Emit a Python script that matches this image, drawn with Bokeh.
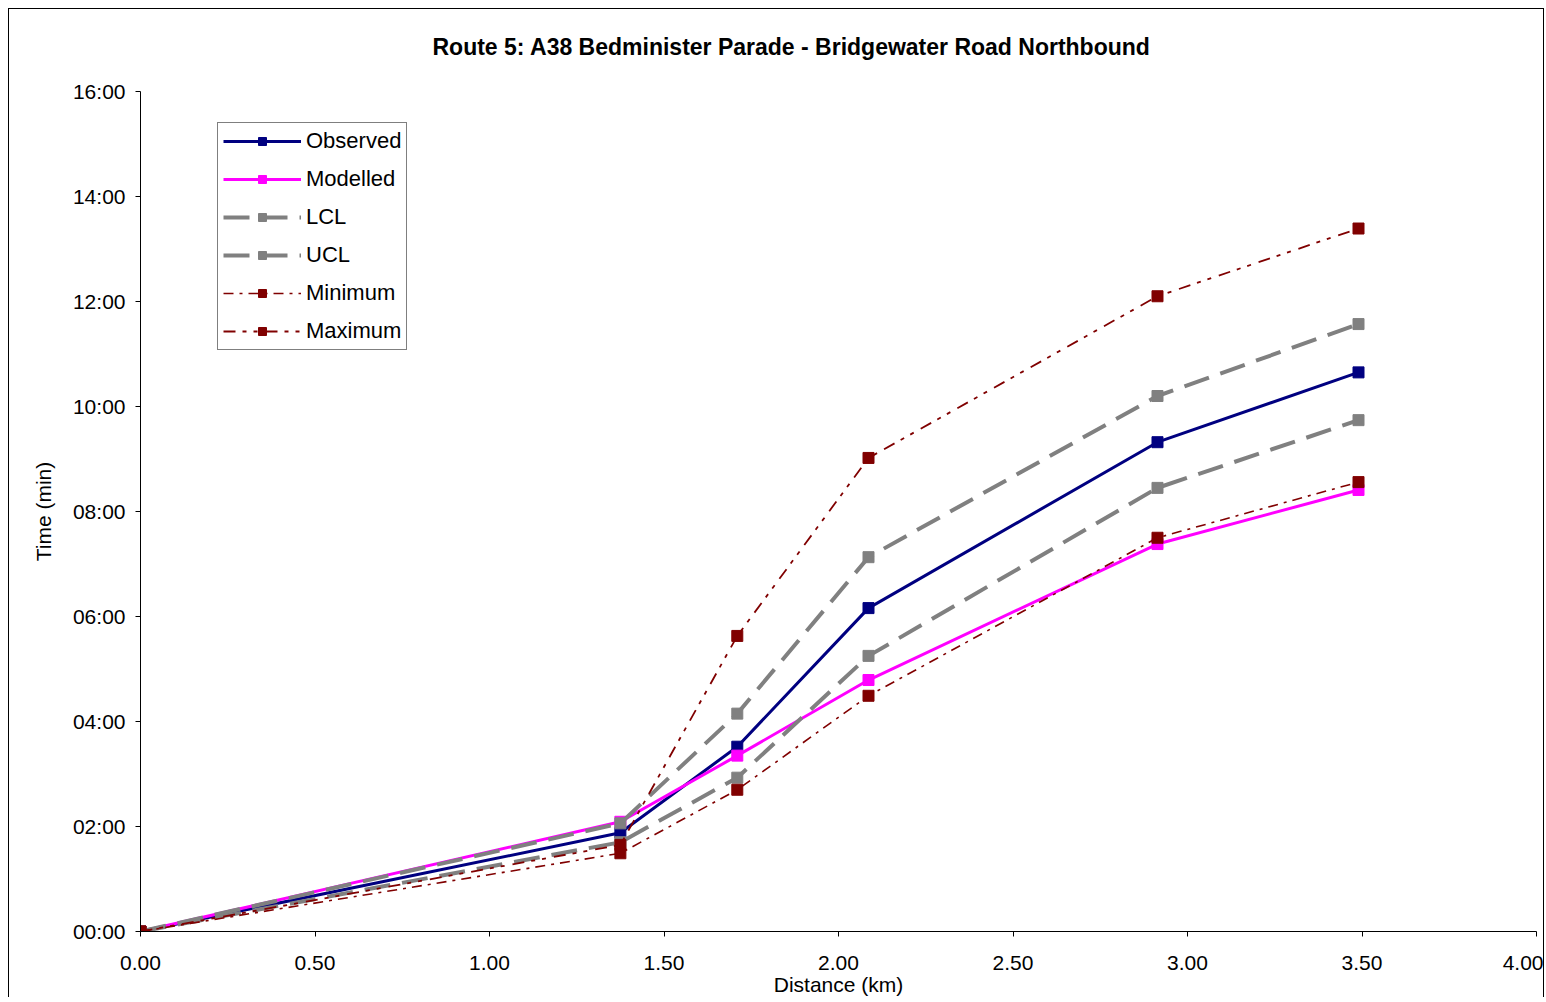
from bokeh.plotting import figure
from bokeh.models import Range1d, FixedTicker, Legend, LegendItem
from bokeh.embed import file_html
from bokeh.resources import INLINE

# ---- data ----
distance_km = [0.0, 1.375, 1.71, 2.086, 2.914, 3.49]
observed = [0.0, 1.88, 3.52, 6.16, 9.32, 10.65]
modelled = [0.0, 2.09, 3.35, 4.79, 7.38, 8.41]
lcl = [0.0, 1.70, 2.93, 5.25, 8.45, 9.74]
ucl = [0.0, 2.06, 4.15, 7.13, 10.20, 11.57]
minimum = [0.0, 1.49, 2.70, 4.49, 7.50, 8.56]
maximum = [0.0, 1.65, 5.63, 9.02, 12.10, 13.39]

series_names = ["Observed", "Modelled", "LCL", "UCL", "Minimum", "Maximum"]
x_ticks = [0.0, 0.5, 1.0, 1.5, 2.0, 2.5, 3.0, 3.5, 4.0]
x_tick_labels = ["0.00", "0.50", "1.00", "1.50", "2.00", "2.50", "3.00", "3.50", "4.00"]
y_ticks = [0, 2, 4, 6, 8, 10, 12, 14, 16]
y_tick_labels = ["00:00", "02:00", "04:00", "06:00", "08:00", "10:00", "12:00", "14:00", "16:00"]
title_text = "Route 5: A38 Bedminister Parade - Bridgewater Road Northbound"

FONT = "Liberation Sans"

p = figure(width=1536, height=989, output_backend="svg", toolbar_location=None,
           x_range=Range1d(0, 4.0), y_range=Range1d(0, 16),
           min_border_left=131, min_border_right=9, min_border_top=82, min_border_bottom=62,
           styles={"border-left": "1px solid black", "border-top": "1px solid black",
                   "border-right": "1px solid black",
                   "margin-left": "8px", "margin-top": "8px"})
p.outline_line_color = None
p.grid.visible = False
p.background_fill_color = "white"
p.border_fill_color = "white"

# second (blank) line lifts the title away from the plot frame
p.title.text = title_text + "\n "
p.title.align = "left"
p.title.offset = 292
p.title.standoff = 12
p.title.text_font = FONT
p.title.text_font_size = "23px"
p.title.text_font_style = "bold"
p.title.text_color = "black"

for ax in (p.xaxis[0], p.yaxis[0]):
    ax.axis_line_color = "black"
    ax.major_tick_line_color = "black"
    ax.minor_tick_line_color = None
    ax.major_tick_out = 5
    ax.major_tick_in = 0
    ax.major_label_text_font = FONT
    ax.major_label_text_font_size = "21px"
    ax.major_label_text_color = "black"
    ax.axis_label_text_font = FONT
    ax.axis_label_text_font_size = "21px"
    ax.axis_label_text_font_style = "normal"
    ax.axis_label_text_color = "black"

p.xaxis.ticker = FixedTicker(ticks=x_ticks)
p.xaxis.major_label_overrides = {t: l for t, l in zip(x_ticks, x_tick_labels)}
p.yaxis.ticker = FixedTicker(ticks=y_ticks)
p.yaxis.major_label_overrides = {t: l for t, l in zip(y_ticks, y_tick_labels)}
p.xaxis.axis_label = "Distance (km)"
p.yaxis.axis_label = "Time (min)"
p.xaxis.major_label_standoff = 19
p.xaxis.axis_label_standoff = 0
p.yaxis.major_label_standoff = 10
p.yaxis.axis_label_standoff = 15

styles = [
    dict(color="#000080", width=3, dash="solid"),
    dict(color="#FF00FF", width=3, dash="solid"),
    dict(color="#808080", width=4, dash="26 12"),
    dict(color="#808080", width=4, dash="26 12"),
    dict(color="#800000", width=1.6, dash="10 6 3 6"),
    dict(color="#800000", width=1.8, dash="12 7 4 7 4 8"),
]
data = [observed, modelled, lcl, ucl, minimum, maximum]
items = []
for name, ys, st in zip(series_names, data, styles):
    ln = p.line(distance_km, ys, line_color=st["color"], line_width=st["width"], line_dash=st["dash"])
    sc = p.scatter(distance_km, ys, marker="square", size=11, fill_color=st["color"], line_color=st["color"])
    items.append(LegendItem(label=name, renderers=[ln, sc]))

legend = Legend(items=items, location=(77, 581), glyph_width=78, glyph_height=20,
                label_height=20, label_standoff=5, spacing=12, padding=5, margin=0,
                label_text_font=FONT, label_text_font_size="22px", label_text_color="black",
                border_line_color="black", border_line_width=1, background_fill_color="white",
                background_fill_alpha=1.0)
p.add_layout(legend, "center")

open("out.html", "w").write(file_html(p, INLINE))
